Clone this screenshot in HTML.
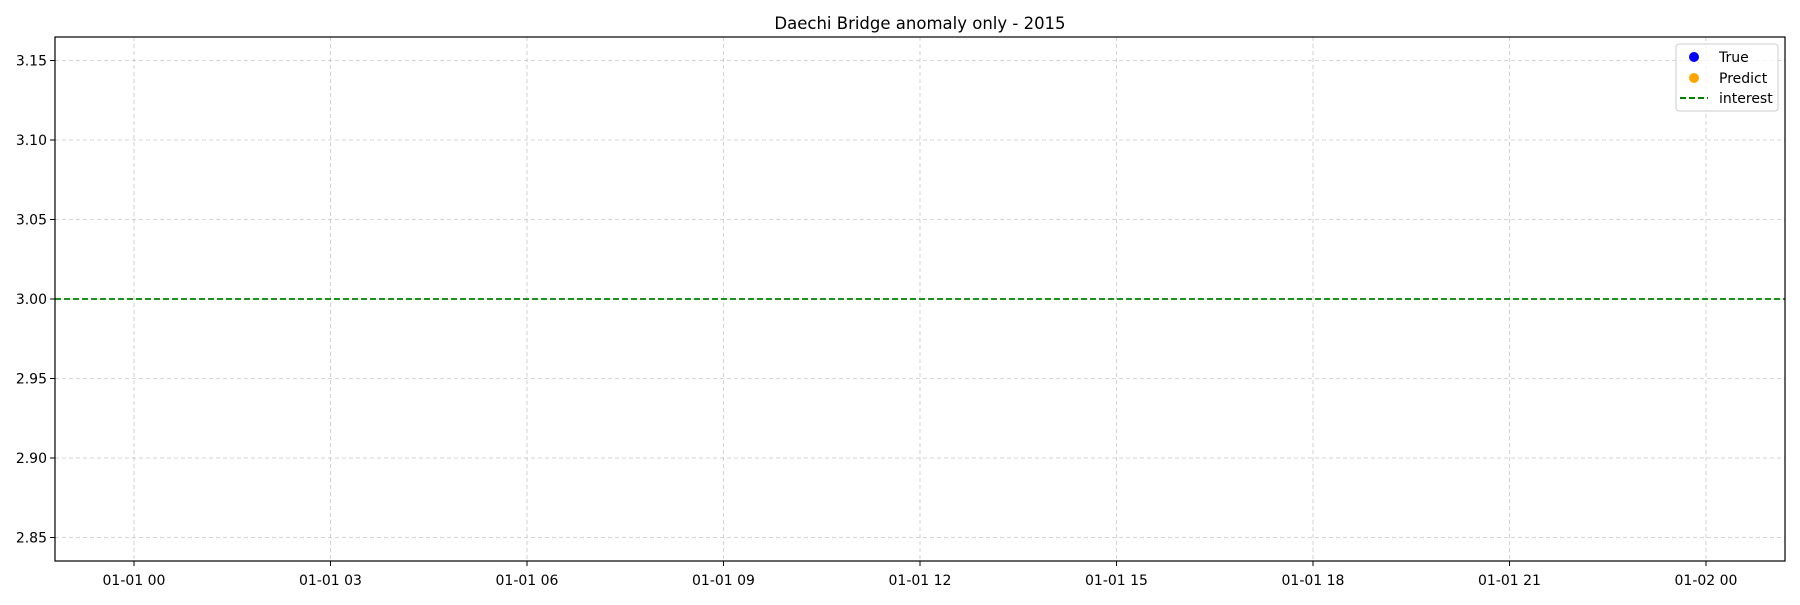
<!DOCTYPE html>
<html><head><meta charset="utf-8"><style>
body{margin:0;background:#fff}
text{font-family:"DejaVu Sans","Liberation Sans",sans-serif;fill:#000}
</style></head><body>
<svg id="chart" width="1800" height="600" xmlns="http://www.w3.org/2000/svg">
<rect width="1800" height="600" fill="#fff"/>
<text x="920" y="29" font-size="16.5" text-anchor="middle">Daechi Bridge anomaly only - 2015</text>
<g id="grid"></g>
<g id="marks"></g>
<rect x="55" y="37" width="1730" height="524" fill="none" stroke="#000" stroke-width="1.2"/>
<g id="ticks"></g>
<g>
<rect x="1676" y="44" width="102" height="67" rx="3" fill="#fff" fill-opacity="0.8" stroke="#ccc"/>
<circle cx="1694" cy="57" r="5" fill="blue"/>
<text x="1719" y="62" font-size="14">True</text>
<circle cx="1694" cy="78" r="5" fill="orange"/>
<text x="1719" y="83" font-size="14">Predict</text>
<line x1="1680" y1="98" x2="1708" y2="98" stroke="green" stroke-width="2" stroke-dasharray="6,3"/>
<text x="1719" y="103" font-size="14">interest</text>
</g>
</svg>
<script>
const yTicks=[2.85,2.90,2.95,3.00,3.05,3.10,3.15];
const xTickLabels=["01-01 00","01-01 03","01-01 06","01-01 09","01-01 12","01-01 15","01-01 18","01-01 21","01-02 00"];
const xTickHours=[0,3,6,9,12,15,18,21,24];
const interestValue=[3.00];
const L=55,R=1785,T=37,B=561;
const yS=v=>299-(v-3.0)/0.05*79.5;
const xS=h=>134+h/3*196.5;
const ns="http://www.w3.org/2000/svg";
function mk(t,a,p){const e=document.createElementNS(ns,t);for(const k in a)e.setAttribute(k,a[k]);p.appendChild(e);return e;}
const g=document.getElementById('grid'),tk=document.getElementById('ticks'),m=document.getElementById('marks');
yTicks.forEach(v=>{const y=yS(v);
const l=mk('line',{x1:L,x2:R,y1:y,y2:y,stroke:'#b0b0b0','stroke-width':0.8,'stroke-dasharray':'4,3','stroke-opacity':0.7},g);


const t=mk('line',{x1:L-5,x2:L,y1:y,y2:y,stroke:'#000'},tk);


const tx=mk('text',{x:L-8,y:y+5,'font-size':14,'text-anchor':'end'},tk);tx.textContent=v.toFixed(2);


});
xTickHours.forEach((h,i)=>{const x=xS(h);
const l=mk('line',{x1:x,x2:x,y1:T,y2:B,stroke:'#b0b0b0','stroke-width':0.8,'stroke-dasharray':'4,3','stroke-opacity':0.7},g);


const t=mk('line',{x1:x,x2:x,y1:B,y2:B+5,stroke:'#000'},tk);


const tx=mk('text',{x:x,y:B+24,'font-size':14,'text-anchor':'middle'},tk);tx.textContent=xTickLabels[i];


});
interestValue.forEach(v=>{const y=yS(v);
const l=mk('line',{x1:L,x2:R,y1:y,y2:y,stroke:'green','stroke-width':1.8,'stroke-dasharray':'6,3'},m);


});
</script>
</body></html>
